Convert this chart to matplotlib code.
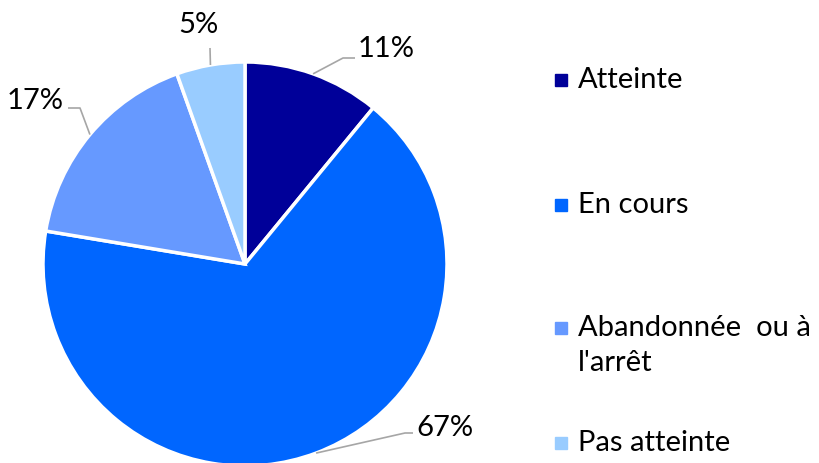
import numpy as np
import matplotlib.pyplot as plt

categories = ['Atteinte', 'En cours', "Abandonnée  ou à\nl'arrêt", 'Pas atteinte']
values = [11, 67, 17, 5.5]
pct_labels = ['11%', '67%', '17%', '5%']
colors = ['#000099', '#0066ff', '#6699ff', '#99ccff']

plt.rcParams['font.family'] = ['Lato', 'DejaVu Sans']

W, H = 819, 463
fig = plt.figure(figsize=(W / 100, H / 100), dpi=100)
ax = fig.add_axes([0, 0, 1, 1])

cx, cy, r = 245, H - 264, 202
wedges, _ = ax.pie(values, colors=colors, startangle=90, counterclock=False,
                   center=(cx, cy), radius=r, frame=True,
                   wedgeprops=dict(edgecolor='white', linewidth=2.5))
ax.set_xlim(0, W)
ax.set_ylim(0, H)
ax.set_aspect('equal')
ax.axis('off')

# label positions (pixel coords, y down) and leader elbows
label_pos = [(386, 49), (445, 428), (35, 101), (198, 25)]
elbows = [[(343, 58), (355, 58)],
          [(405, 433), (413, 433)],
          [(80, 108), (68, 108)],
          [(210, 48)]]
for w, txt, (lx, ly), elb in zip(wedges, pct_labels, label_pos, elbows):
    ang = np.deg2rad((w.theta1 + w.theta2) / 2)
    ex, ey = cx + r * np.cos(ang), cy + r * np.sin(ang)
    xs = [ex] + [p[0] for p in elb]
    ys = [ey] + [H - p[1] for p in elb]
    ax.plot(xs, ys, color='#a6a6a6', lw=1.2, solid_capstyle='butt')
    ax.text(lx, H - ly, txt, fontsize=21, ha='center', va='center', color='black')

# legend
leg_y = [80, 205, 328, 443]
for c, lab, y in zip(colors, categories, leg_y):
    ax.add_patch(plt.Rectangle((555, H - y - 6), 12, 12, color=c))
    for i, line in enumerate(lab.split('\n')):
        ax.text(578, H - y - i * 35, line, fontsize=21,
                ha='left', va='center', color='black')

fig.savefig('out.png', dpi=100)
